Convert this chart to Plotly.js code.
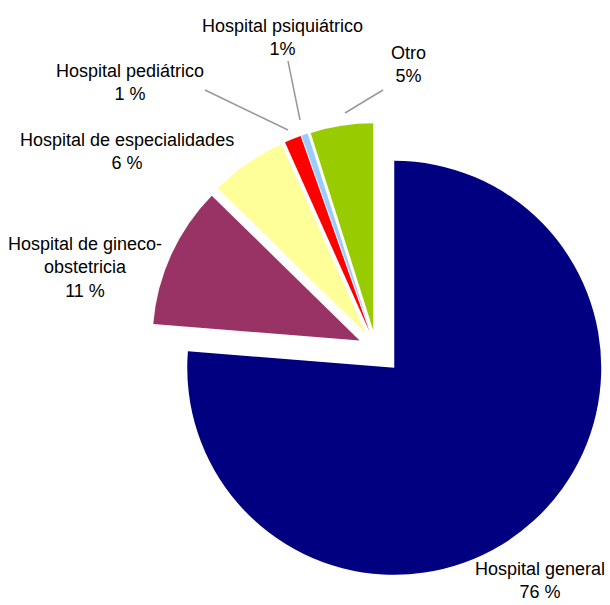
<!DOCTYPE html>
<html><head><meta charset="utf-8">
<script src="https://cdn.plot.ly/plotly-3.0.1.min.js"></script>
<style>html,body{margin:0;padding:0;background:#fff}</style>
</head><body>
<div id="chart" style="width:610px;height:605px"></div>
<script>
const categories = ["Hospital general","Hospital de gineco-obstetricia","Hospital de especialidades","Hospital pediátrico","Hospital psiquiátrico","Otro"];
const values = [76.5, 11.1, 6.0, 1.3, 0.5, 4.9];
const pctLabels = ["76 %","11 %","6 %","1 %","1%","5%"];
const labelLines = [["Hospital general"],["Hospital de gineco-","obstetricia"],["Hospital de especialidades"],["Hospital pediátrico"],["Hospital psiquiátrico"],["Otro"]];
const colors = ["#000080","#993366","#FFFF99","#FF0000","#99CCFF","#99CC00"];
const pulls = [0.13, 0.087, 0.087, 0.087, 0.087, 0.087];

const W = 610, H = 605;
const px = x => x / W, py = y => 1 - y / H;
const labelPos = [[540,580],[85,267],[127,152],[130,82],[282,37],[408,65]];
const leaders = [null,null,null,[[205,90],[288,130]],[[288,61],[300,120]],[[383,90],[345,113]]];

const annotations = categories.map((c,i)=>({
  x: px(labelPos[i][0]), y: py(labelPos[i][1]), xref:'paper', yref:'paper',
  text: labelLines[i].concat([pctLabels[i]]).join('<br>'),
  showarrow:false, xanchor:'center', yanchor:'middle',
  font:{family:'"Liberation Sans",Arial,sans-serif', size:18, color:'#000'}
}));
const shapes = leaders.filter(l=>l).map(l=>({
  type:'line', xref:'paper', yref:'paper',
  x0:px(l[0][0]), y0:py(l[0][1]), x1:px(l[1][0]), y1:py(l[1][1]),
  line:{color:'#999999', width:1.5}
}));

const cx = 376, cy = 348, r = 207, maxPull = 0.13;
const half = r*(1+maxPull);
Plotly.newPlot('chart',[{
  type:'pie', labels:categories, values:values, sort:false, direction:'clockwise', rotation:0,
  pull:pulls, marker:{colors:colors, line:{width:0}}, textinfo:'none', hoverinfo:'label+percent',
  domain:{x:[px(cx-half), Math.min(1,px(cx+half))], y:[py(cy+half), py(cy-half)]}
}],{
  width:W, height:H, margin:{l:0,r:0,t:0,b:0}, showlegend:false,
  paper_bgcolor:'#fff', annotations:annotations, shapes:shapes
},{displayModeBar:false});
</script>
</body></html>
